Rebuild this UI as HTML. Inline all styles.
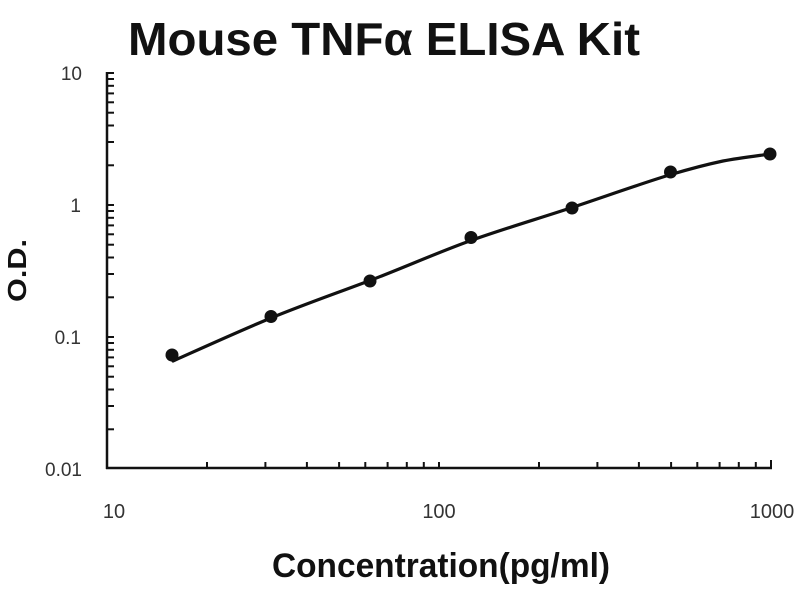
<!DOCTYPE html>
<html>
<head>
<meta charset="utf-8">
<style>
html,body{margin:0;padding:0;background:#fff;}
svg{display:block;}
text{font-family:"Liberation Sans",Arial,sans-serif;}
</style>
</head>
<body>
<svg width="800" height="600" viewBox="0 0 800 600" xmlns="http://www.w3.org/2000/svg">
<rect width="800" height="600" fill="#fff"/>
<!-- Title -->
<text x="128" y="55" font-size="46" font-weight="bold" fill="#111" textLength="512" lengthAdjust="spacingAndGlyphs">Mouse TNFα ELISA Kit</text>

<!-- Axes -->
<g stroke="#111" stroke-width="2.5" fill="none">
<line x1="107" y1="72" x2="107" y2="469"/>
<line x1="106" y1="468" x2="772" y2="468"/>
</g>
<!-- Y ticks -->
<g stroke="#111" stroke-width="2">
<line x1="107" y1="73" x2="114" y2="73"/>
<line x1="107" y1="79" x2="114" y2="79"/>
<line x1="107" y1="85.8" x2="114" y2="85.8"/>
<line x1="107" y1="93.4" x2="114" y2="93.4"/>
<line x1="107" y1="102.3" x2="114" y2="102.3"/>
<line x1="107" y1="112.7" x2="114" y2="112.7"/>
<line x1="107" y1="125.5" x2="114" y2="125.5"/>
<line x1="107" y1="142" x2="114" y2="142"/>
<line x1="107" y1="165.3" x2="114" y2="165.3"/>
<line x1="107" y1="205" x2="114" y2="205"/>
<line x1="107" y1="211" x2="114" y2="211"/>
<line x1="107" y1="217.8" x2="114" y2="217.8"/>
<line x1="107" y1="225.4" x2="114" y2="225.4"/>
<line x1="107" y1="234.3" x2="114" y2="234.3"/>
<line x1="107" y1="244.7" x2="114" y2="244.7"/>
<line x1="107" y1="257.5" x2="114" y2="257.5"/>
<line x1="107" y1="274" x2="114" y2="274"/>
<line x1="107" y1="297.3" x2="114" y2="297.3"/>
<line x1="107" y1="337" x2="114" y2="337"/>
<line x1="107" y1="343" x2="114" y2="343"/>
<line x1="107" y1="349.8" x2="114" y2="349.8"/>
<line x1="107" y1="357.4" x2="114" y2="357.4"/>
<line x1="107" y1="366.3" x2="114" y2="366.3"/>
<line x1="107" y1="376.7" x2="114" y2="376.7"/>
<line x1="107" y1="389.5" x2="114" y2="389.5"/>
<line x1="107" y1="406" x2="114" y2="406"/>
<line x1="107" y1="429.3" x2="114" y2="429.3"/>
</g>
<!-- X ticks -->
<g stroke="#111" stroke-width="2">
<line x1="207" y1="468" x2="207" y2="462"/>
<line x1="265.4" y1="468" x2="265.4" y2="462"/>
<line x1="306.9" y1="468" x2="306.9" y2="462"/>
<line x1="339.1" y1="468" x2="339.1" y2="462"/>
<line x1="365.3" y1="468" x2="365.3" y2="462"/>
<line x1="387.6" y1="468" x2="387.6" y2="462"/>
<line x1="406.8" y1="468" x2="406.8" y2="462"/>
<line x1="423.8" y1="468" x2="423.8" y2="462"/>
<line x1="439" y1="468" x2="439" y2="462"/>
<line x1="539" y1="468" x2="539" y2="462"/>
<line x1="597.4" y1="468" x2="597.4" y2="462"/>
<line x1="638.9" y1="468" x2="638.9" y2="462"/>
<line x1="671.1" y1="468" x2="671.1" y2="462"/>
<line x1="697.3" y1="468" x2="697.3" y2="462"/>
<line x1="719.6" y1="468" x2="719.6" y2="462"/>
<line x1="738.8" y1="468" x2="738.8" y2="462"/>
<line x1="755.8" y1="468" x2="755.8" y2="462"/>
<line x1="771" y1="468" x2="771" y2="460"/>
</g>

<!-- Y tick labels -->
<g font-size="19" fill="#333" text-anchor="end">
<text x="82" y="80">10</text>
<text x="81" y="212">1</text>
<text x="81" y="344">0.1</text>
<text x="82" y="476">0.01</text>
</g>
<!-- X tick labels -->
<g font-size="20" fill="#333" text-anchor="middle">
<text x="114" y="518">10</text>
<text x="439" y="518">100</text>
<text x="772" y="518">1000</text>
</g>

<!-- Axis titles -->
<text x="272" y="577" font-size="34" font-weight="bold" fill="#111" textLength="338" lengthAdjust="spacingAndGlyphs">Concentration(pg/ml)</text>
<text transform="translate(26,302) rotate(-90)" font-size="26" font-weight="bold" fill="#111" textLength="63" lengthAdjust="spacingAndGlyphs">O.D.</text>

<!-- Curve -->
<path d="M173,361 C189.3,353.8 238.2,331.5 271,318 C303.8,304.5 337,293 370,280.5 C403,268 437.5,252.5 471,240.5 C504.5,228.5 539,218.5 572,207.5 C605,196.5 645.8,182 671,174.5 C696.2,167 706.5,164.5 723,161 C739.5,157.8 762.2,155.2 770,154" stroke="#111" stroke-width="3.2" fill="none" stroke-linecap="round" stroke-linejoin="round"/>

<!-- Points -->
<g fill="#111">
<circle cx="172" cy="355" r="6.5"/>
<circle cx="271" cy="316.5" r="6.5"/>
<circle cx="370" cy="281" r="6.5"/>
<circle cx="471" cy="237.5" r="6.5"/>
<circle cx="572" cy="208" r="6.5"/>
<circle cx="670.5" cy="172" r="6.5"/>
<circle cx="770" cy="154" r="6.5"/>
</g>
</svg>
</body>
</html>
